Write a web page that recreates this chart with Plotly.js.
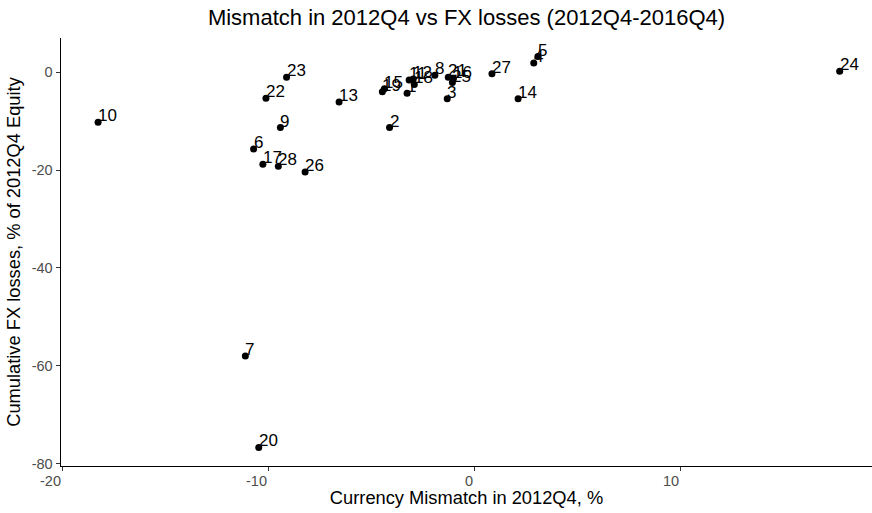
<!DOCTYPE html>
<html>
<head>
<meta charset="utf-8">
<script src="https://cdn.plot.ly/plotly-3.0.1.min.js"></script>
<style>html,body{margin:0;padding:0;background:#fff;}#chart{width:872px;height:513px;}</style>
</head>
<body>
<div id="chart"></div>
<script>
// Country / observation ids
var labels = ["1","2","3","4","5","6","7","8","9","10","11","12","13","14","15","16","17","18","19","20","21","22","23","24","25","26","27","28"];
// Currency mismatch in 2012Q4, %
var mismatch = [-3.25,-4.1,-1.3,2.9,3.1,-10.7,-11.1,-1.9,-9.4,-18.25,-3.15,-2.95,-6.55,2.14,-4.35,-1.0,-10.25,-2.9,-4.45,-10.45,-1.25,-10.1,-9.1,17.75,-1.05,-8.2,0.87,-9.5];
// Cumulative FX losses, % of 2012Q4 equity
var fxLoss = [-4.3,-11.3,-5.4,1.9,3.2,-15.7,-58.0,-0.6,-11.3,-10.2,-1.6,-1.4,-6.1,-5.4,-3.4,-1.3,-18.8,-2.5,-4.0,-76.7,-1.0,-5.3,-1.0,0.2,-2.1,-20.4,-0.3,-19.2];

var xTicks = [-20,-10,0,10];
var yTicks = [-80,-60,-40,-20,0];

var font = 'Liberation Sans, Arial, sans-serif';
var annotations = labels.map(function(l,i){
  return {x: mismatch[i], y: fxLoss[i], text: l, showarrow:false,
          xanchor:'left', yanchor:'bottom', xshift:-2, yshift:-5,
          font:{family:font, size:17, color:'#000'}};
});
// x tick labels: right-aligned to their tick marks, as in the reference
xTicks.forEach(function(t){
  annotations.push({x:t, xref:'x', y:0, yref:'paper', text:String(t), showarrow:false,
    xanchor:'right', yanchor:'top', xshift:1, yshift:-5,
    font:{family:font, size:14.5, color:'#4d4d4d'}});
});

var trace = {x: mismatch, y: fxLoss, mode:'markers', type:'scatter',
  marker:{color:'#000', size:7}, hoverinfo:'none', cliponaxis:false};

var layout = {
  width:872, height:513,
  margin:{l:61, r:0, t:38, b:47},
  paper_bgcolor:'#fff', plot_bgcolor:'#fff',
  showlegend:false,
  font:{family:font},
  title:{text:'Mismatch in 2012Q4 vs FX losses (2012Q4-2016Q4)', x:0.535, xanchor:'center', y:0.967, yanchor:'middle',
         font:{size:22, color:'#000'}},
  xaxis:{range:[-20.05,19.32], tickvals:xTicks, showticklabels:false, showgrid:false, zeroline:false,
         showline:true, linecolor:'#000', linewidth:1.4, ticks:'outside', ticklen:4, tickcolor:'#333', tickwidth:1,
         title:{text:'Currency Mismatch in 2012Q4, %', font:{size:18.3, color:'#000'}, standoff:20}},
  yaxis:{range:[-80.5,7.0], tickvals:yTicks, ticktext:yTicks.map(String), showgrid:false, zeroline:false,
         showline:true, linecolor:'#000', linewidth:1.4, ticks:'outside', ticklen:4, tickcolor:'#333', tickwidth:1,
         tickfont:{size:14.5, color:'#4d4d4d'},
         title:{text:'Cumulative FX losses, % of 2012Q4 Equity', font:{size:18.3, color:'#000'}, standoff:6}},
  annotations: annotations
};
Plotly.newPlot('chart',[trace],layout,{staticPlot:true, displayModeBar:false});
</script>
</body>
</html>
